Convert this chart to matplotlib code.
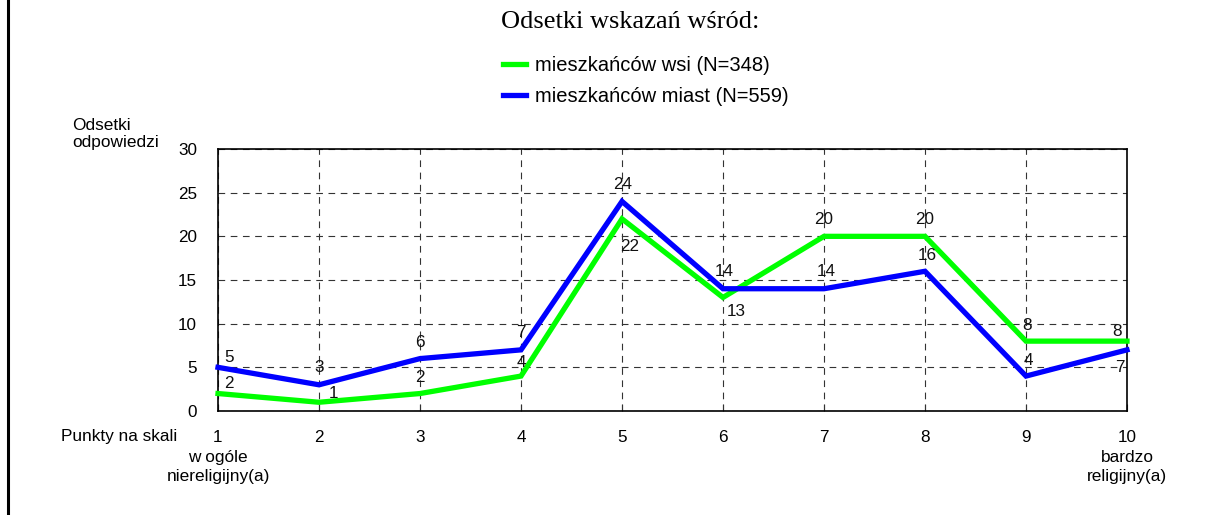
import matplotlib
matplotlib.use("Agg")
import matplotlib.pyplot as plt
from matplotlib.lines import Line2D
import matplotlib.transforms as mtransforms

# ---- data ----
points = [1, 2, 3, 4, 5, 6, 7, 8, 9, 10]
tick_labels = ["1", "2", "3", "4", "5", "6", "7", "8", "9", "10"]
end_captions = ["w ogóle\nniereligijny(a)", "bardzo\nreligijny(a)"]
wsi = [2, 1, 2, 4, 22, 13, 20, 20, 8, 8]
miast = [5, 3, 6, 7, 24, 14, 14, 16, 4, 7]
label_wsi = "mieszkańców wsi (N=348)"
label_miast = "mieszkańców miast (N=559)"
title = "Odsetki wskazań wśród:"
y_ticks = [0, 5, 10, 15, 20, 25, 30]

# label offsets in pixels (dx, dy), screen-space (dy positive = up)
off_wsi = [(11, 10), (14, 9), (0, 16), (0, 14), (8, -28), (13, -14), (0, 17), (0, 17), (1, 16), (-10, 10)]
off_miast = [(11, 10), (0, 17), (0, 16), (0, 17), (1, 17), (1, 17), (2, 17), (2, 16), (2, 16), (-7, -18)]

plt.rcParams['font.family'] = ['Liberation Sans', 'DejaVu Sans']
DPI = 100
fig = plt.figure(figsize=(12.06, 5.15), dpi=DPI)
W, H = 1206, 515
ax = fig.add_axes([218 / W, 1 - 411 / H, (1127 - 218) / W, (411 - 149) / H])

GREEN = "#00ff00"
BLUE = "#0000ff"
lw = 3.8
l1, = ax.plot(points, wsi, color=GREEN, lw=lw, clip_on=False, solid_joinstyle="miter", zorder=3)
l2, = ax.plot(points, miast, color=BLUE, lw=lw, clip_on=False, solid_joinstyle="miter", zorder=4)

px = 72 / DPI  # points per pixel
fs_num = 12.3
fs_cap = 12.4
for x, y, (dx, dy) in zip(points, wsi, off_wsi):
    ax.annotate(str(y), (x, y), xytext=(dx * px, dy * px), textcoords="offset points",
                ha="center", va="center", fontsize=fs_num, color="#111111", zorder=5)
for x, y, (dx, dy) in zip(points, miast, off_miast):
    ax.annotate(str(y), (x, y), xytext=(dx * px, dy * px), textcoords="offset points",
                ha="center", va="center", fontsize=fs_num, color="#111111", zorder=5)

ax.set_xlim(1, 10)
ax.set_ylim(0, 30)
ax.set_xticks(points)
ax.set_xticklabels(tick_labels, fontsize=fs_num, va="top")
ax.set_yticks(y_ticks)
ax.set_yticklabels([str(v) for v in y_ticks], fontsize=fs_num)
ax.tick_params(axis="x", direction="in", length=5, width=0.8, pad=14, color="#333333")
ax.tick_params(axis="y", length=0, pad=15)
for s in ax.spines.values():
    s.set_linewidth(1.2)
    s.set_color("black")
ax.grid(True, color="#333333", linestyle=(0, (6, 5)), linewidth=0.8)
ax.set_axisbelow(True)

# captions under first and last tick
trans = mtransforms.blended_transform_factory(ax.transData, fig.transFigure)
for xp, cap in zip([points[0], points[-1]], end_captions):
    ax.text(xp, 1 - 467 / H, cap, transform=trans, ha="center", va="center",
            fontsize=fs_cap, linespacing=1.28)

# axis captions
fig.text(72 / W, 1 - 134 / H, "Odsetki\nodpowiedzi", ha="left", va="center", fontsize=fs_cap, linespacing=1.1)
fig.text(177 / W, 1 - 437 / H, "Punkty na skali", ha="right", va="center", fontsize=fs_cap)

# title
fig.text(630 / W, 1 - 22 / H, title, ha="center", va="center", fontsize=19,
         family=["Liberation Serif", "DejaVu Serif"])

# legend
fig.legend([l1, l2], [label_wsi, label_miast], loc="center left",
           bbox_to_anchor=(503 / W, 1 - 81 / H), frameon=False, fontsize=14.5,
           handlelength=1.15, handletextpad=0.45, labelspacing=0.6, borderpad=0, borderaxespad=0)

# left border line
fig.add_artist(Line2D([8 / W, 8 / W], [0, 1], color="black", lw=2.2, transform=fig.transFigure))

fig.savefig("out.png", dpi=DPI)
